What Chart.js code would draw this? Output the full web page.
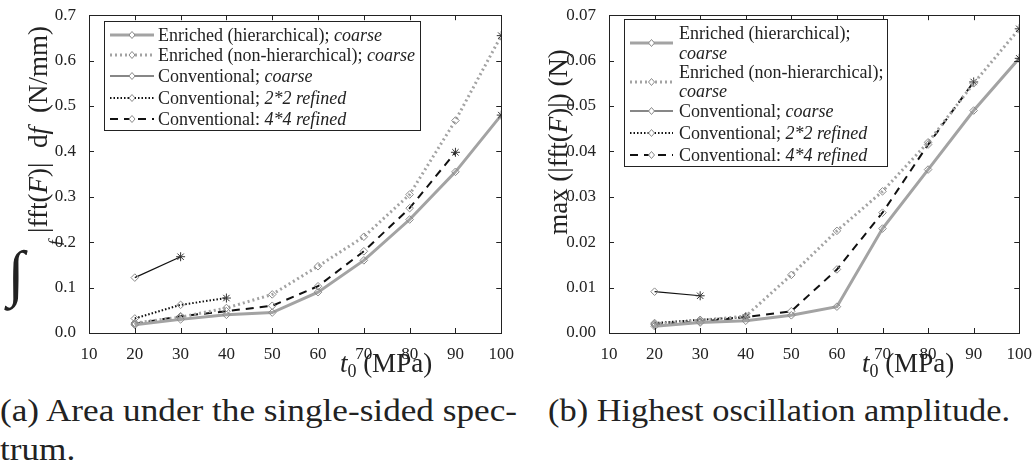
<!DOCTYPE html>
<html lang="en">
<head>
    <meta charset="UTF-8">
    <title>Spectrum comparison</title>
    <style>
        body {
            margin: 0;
            background: #fff;
            width: 1035px;
            height: 469px;
            position: relative;
            overflow: hidden;
            color: #222;
        }

        .panel {
            position: absolute;
            top: 0;
            width: 517px;
            height: 390px;
        }

        .caption {
            position: absolute;
            font-family: 'Liberation Serif';
            font-size: 32px;
            line-height: 39px;
            white-space: nowrap;
            color: #222;
            transform-origin: 0 0;
        }
    </style>
</head>
<body>
    <div class="panel" style="left:0"><canvas id="areaChart"></canvas></div>
    <div class="panel" style="left:518px"><canvas id="peakChart"></canvas></div>

    <div class="caption" id="capA1" style="left:0; top:391px">(a) Area under the single-sided spec-</div>
    <div class="caption" id="capA2" style="left:0; top:430px">trum.</div>
    <div class="caption" id="capB" style="left:548px; top:391px">(b) Highest oscillation amplitude.</div>

    <script src="https://cdn.jsdelivr.net/npm/chart.js"></script>
    <script>
        // load t0 (MPa)
        const loads = [20, 30, 40, 50, 60, 70, 80, 90, 100];

        // (a) integral of |fft(F)| over f, N/mm
        const areaEnrHier    = [0.018, 0.030, 0.040, 0.045, 0.090, 0.160, 0.250, 0.355, 0.480];
        const areaEnrNonHier = [0.022, 0.035, 0.055, 0.085, 0.147, 0.212, 0.305, 0.468, 0.655];
        const areaConvCoarse = [0.122, 0.168];
        const areaConv2x2    = [0.032, 0.062, 0.077];
        const areaConv4x4    = [0.020, 0.037, 0.048, 0.060, 0.103, 0.180, 0.275, 0.398];

        // (b) max |fft(F)|, N
        const peakEnrHier    = [0.0015, 0.0023, 0.0027, 0.0039, 0.0058, 0.0230, 0.0360, 0.0490, 0.0605];
        const peakEnrNonHier = [0.0020, 0.0028, 0.0037, 0.0128, 0.0225, 0.0312, 0.0420, 0.0550, 0.0670];
        const peakConvCoarse = [0.0091, 0.0082];
        const peakConv2x2    = [0.0022, 0.0029, 0.0035];
        const peakConv4x4    = [0.0018, 0.0025, 0.0035, 0.0048, 0.0140, 0.0265, 0.0415, 0.0553];

        const xTicks = [10, 20, 30, 40, 50, 60, 70, 80, 90, 100];
        const areaTicks = [0, 0.1, 0.2, 0.3, 0.4, 0.5, 0.6, 0.7];
        const peakTicks = [0, 0.01, 0.02, 0.03, 0.04, 0.05, 0.06, 0.07];

        const FONT = "'Liberation Serif'";
        const GREY = '#a3a3a3';
        const INK = '#111';

        // stretch the captions to the text block width
        function fitCaption(id, width, refId) {
            const el = document.getElementById(id);
            const base = document.getElementById(refId || id);
            el.style.transform = `scaleX(${width / base.scrollWidth})`;
        }
        fitCaption('capA1', 517);
        fitCaption('capA2', 517, 'capA1');
        fitCaption('capB', 462);

        // each series: solver name, mesh in italics, line style
        const seriesStyles = [
            { name: 'Enriched (hierarchical); ', mesh: 'coarse', color: GREY, width: 3, dash: [] },
            { name: 'Enriched (non-hierarchical); ', mesh: 'coarse', color: GREY, width: 3, dash: [2, 3] },
            { name: 'Conventional; ', mesh: 'coarse', color: INK, width: 1.2, dash: [] },
            { name: 'Conventional; ', mesh: '2*2 refined', color: INK, width: 2, dash: [1.5, 2] },
            { name: 'Conventional: ', mesh: '4*4 refined', color: INK, width: 2, dash: [8, 6] }
        ];

        function makeDatasets(series) {
            return series.map((values, i) => {
                const s = seriesStyles[i];
                const n = values.length;
                return {
                    label: s.name + s.mesh,
                    data: values.map((v, k) => ({ x: loads[k], y: v })),
                    borderColor: s.color,
                    borderWidth: s.width,
                    borderDash: s.dash,
                    tension: 0,
                    fill: false,
                    pointStyle: values.map((_, k) => k === n - 1 ? 'star' : 'rectRot'),
                    pointRadius: values.map((_, k) => k === n - 1 ? 4.5 : 3.8),
                    pointBorderWidth: 1,
                    pointBorderColor: values.map((_, k) => k === n - 1 ? '#333' : '#8a8a8a'),
                    pointBackgroundColor: 'rgba(255,255,255,0)'
                };
            });
        }

        // draw a run of text pieces; a piece may start at a fixed offset (at)
        // and carry its own font and baseline shift
        function drawRich(ctx, pieces, x, y, align) {
            let total = 0;
            pieces.forEach(p => { ctx.font = p.font; total += ctx.measureText(p.t).width; });
            let cx = align === 'center' ? x - total / 2 : x;
            ctx.textBaseline = 'alphabetic';
            ctx.textAlign = 'left';
            pieces.forEach(p => {
                // option proxies may hand back non-numbers for missing keys
                if (typeof p.at === 'number') cx = x + p.at;
                const dy = typeof p.dy === 'number' ? p.dy : 0;
                ctx.font = p.font;
                ctx.fillText(p.t, cx, y + dy);
                cx += ctx.measureText(p.t).width;
            });
        }

        // box frame with inward ticks on all four sides
        const framePlugin = {
            id: 'frame',
            afterDraw(chart, args, opts) {
                const { ctx, chartArea: a, scales } = chart;
                ctx.save();
                ctx.strokeStyle = '#222';
                ctx.lineWidth = 1;
                ctx.setLineDash([]);
                ctx.strokeRect(Math.round(a.left) + 0.5, Math.round(a.top) + 0.5,
                    Math.round(a.right - a.left), Math.round(a.bottom - a.top));
                ctx.beginPath();
                xTicks.forEach(v => {
                    const px = Math.round(scales.x.getPixelForValue(v)) + 0.5;
                    ctx.moveTo(px, a.bottom); ctx.lineTo(px, a.bottom - 5);
                    ctx.moveTo(px, a.top); ctx.lineTo(px, a.top + 5);
                });
                opts.yTicks.forEach(v => {
                    const py = Math.round(scales.y.getPixelForValue(v)) + 0.5;
                    ctx.moveTo(a.left, py); ctx.lineTo(a.left + 5, py);
                    ctx.moveTo(a.right, py); ctx.lineTo(a.right - 5, py);
                });
                ctx.stroke();
                ctx.restore();
            }
        };

        // axis titles with math-style pieces
        const titlePlugin = {
            id: 'axisTitles',
            afterDraw(chart, args, opts) {
                const { ctx } = chart;
                ctx.save();
                ctx.fillStyle = '#222';
                const xPieces = [
                    { t: 't', font: `italic 27px ${FONT}` },
                    { t: '0', font: `18px ${FONT}`, dy: 5 },
                    { t: ' (MPa)', font: `27px ${FONT}` }
                ];
                drawRich(ctx, xPieces, opts.xTitleX, 372, 'center');
                if (opts.integral) {
                    // upright integral sign in front of the rotated label
                    ctx.font = `italic 62px ${FONT}`;
                    ctx.textAlign = 'center';
                    ctx.textBaseline = 'middle';
                    ctx.fillText('\u222B', opts.integral.x, opts.integral.y);
                }
                ctx.translate(opts.yTitleX, opts.yTitleY);
                ctx.rotate(-Math.PI / 2);
                drawRich(ctx, opts.yPieces, 0, 0, opts.yAlign);
                ctx.restore();
            }
        };

        // legend box drawn inside the plot area
        const boxLegendPlugin = {
            id: 'boxLegend',
            afterDraw(chart, args, opts) {
                const { ctx } = chart;
                const b = opts.box;
                ctx.save();
                ctx.fillStyle = '#fff';
                ctx.fillRect(b.x, b.y, b.w, b.h);
                ctx.strokeStyle = '#222';
                ctx.lineWidth = 1;
                ctx.strokeRect(b.x + 0.5, b.y + 0.5, b.w, b.h);
                opts.rows.forEach((row, i) => {
                    const s = seriesStyles[i];
                    ctx.beginPath();
                    ctx.strokeStyle = s.color;
                    ctx.lineWidth = s.width;
                    ctx.setLineDash(s.dash);
                    ctx.moveTo(opts.sampleX0, row.lineY);
                    ctx.lineTo(opts.sampleX1, row.lineY);
                    ctx.stroke();
                    ctx.setLineDash([]);
                    const mx = (opts.sampleX0 + opts.sampleX1) / 2;
                    ctx.beginPath();
                    ctx.strokeStyle = '#8a8a8a';
                    ctx.lineWidth = 1;
                    ctx.moveTo(mx, row.lineY - 3.5); ctx.lineTo(mx + 3, row.lineY);
                    ctx.lineTo(mx, row.lineY + 3.5); ctx.lineTo(mx - 3, row.lineY);
                    ctx.closePath();
                    ctx.fillStyle = '#fff';
                    ctx.fill();
                    ctx.stroke();
                    ctx.fillStyle = '#222';
                    const regular = `18px ${FONT}`;
                    const italic = `italic 18px ${FONT}`;
                    if (row.wrap) {
                        drawRich(ctx, [{ t: s.name.trim(), font: regular }], opts.textX, row.textY[0], 'left');
                        drawRich(ctx, [{ t: s.mesh, font: italic }], opts.textX, row.textY[1], 'left');
                    } else {
                        drawRich(ctx, [{ t: s.name, font: regular }, { t: s.mesh, font: italic }],
                            opts.textX, row.textY[0], 'left');
                    }
                });
                ctx.restore();
            }
        };

        function buildChart(id, series, yTicks, decimals, layout, extra) {
            return new Chart(document.getElementById(id), {
                type: 'line',
                data: { datasets: makeDatasets(series) },
                plugins: [framePlugin, titlePlugin, boxLegendPlugin],
                options: {
                    responsive: true,
                    maintainAspectRatio: false,
                    animation: false,
                    layout: { autoPadding: false, padding: { top: 7, right: layout.right, left: 0, bottom: 0 } },
                    scales: {
                        x: {
                            type: 'linear',
                            min: 10,
                            max: 100,
                            afterBuildTicks: s => { s.ticks = xTicks.map(v => ({ value: v })); },
                            afterFit: s => { s.height = 57; },
                            grid: { display: false },
                            border: { display: false },
                            ticks: { color: '#222', padding: 3, maxRotation: 0, font: { family: FONT, size: 17 } }
                        },
                        y: {
                            min: 0,
                            max: yTicks[yTicks.length - 1],
                            afterBuildTicks: s => { s.ticks = yTicks.map(v => ({ value: v })); },
                            afterFit: s => { s.width = layout.left; },
                            grid: { display: false },
                            border: { display: false },
                            ticks: {
                                color: '#222',
                                padding: 5,
                                font: { family: FONT, size: 17 },
                                callback: v => v.toFixed(decimals)
                            }
                        }
                    },
                    plugins: {
                        legend: { display: false },
                        tooltip: { enabled: false },
                        frame: { yTicks: yTicks },
                        axisTitles: extra.titles,
                        boxLegend: extra.legend
                    }
                }
            });
        }

        buildChart('areaChart',
            [areaEnrHier, areaEnrNonHier, areaConvCoarse, areaConv2x2, areaConv4x4],
            areaTicks, 1, { left: 89, right: 15 },
            {
                titles: {
                    xTitleX: 386,
                    integral: { x: 16, y: 278 },
                    yTitleX: 47,
                    yTitleY: 245,
                    yAlign: 'left',
                    yPieces: [
                        { t: 'f', font: `italic 17px ${FONT}`, dy: 13, at: 0 },
                        { t: '|fft(', font: `27px ${FONT}`, at: 12 },
                        { t: 'F', font: `italic 27px ${FONT}` },
                        { t: ')|', font: `27px ${FONT}` },
                        { t: 'd', font: `27px ${FONT}`, at: 97 },
                        { t: 'f', font: `italic 27px ${FONT}` },
                        { t: '(N/mm)', font: `27px ${FONT}`, at: 132 }
                    ]
                },
                legend: {
                    box: { x: 104, y: 21, w: 316, h: 109 },
                    sampleX0: 110, sampleX1: 154, textX: 158,
                    rows: [
                        { lineY: 35, textY: [41] },
                        { lineY: 55, textY: [61] },
                        { lineY: 76, textY: [82] },
                        { lineY: 98, textY: [104] },
                        { lineY: 119, textY: [125] }
                    ]
                }
            });

        buildChart('peakChart',
            [peakEnrHier, peakEnrNonHier, peakConvCoarse, peakConv2x2, peakConv4x4],
            peakTicks, 2, { left: 91, right: 12 },
            {
                titles: {
                    xTitleX: 390,
                    yTitleX: 49,
                    yTitleY: 142,
                    yAlign: 'center',
                    yPieces: [
                        { t: 'max (|fft(', font: `27px ${FONT}` },
                        { t: 'F', font: `italic 27px ${FONT}` },
                        { t: ')|) (N)', font: `27px ${FONT}` }
                    ]
                },
                legend: {
                    box: { x: 106, y: 19, w: 263, h: 147 },
                    sampleX0: 112, sampleX1: 155, textX: 161,
                    rows: [
                        { lineY: 43, wrap: true, textY: [39, 59] },
                        { lineY: 82, wrap: true, textY: [78, 97] },
                        { lineY: 111, textY: [117] },
                        { lineY: 133, textY: [139] },
                        { lineY: 155, textY: [161] }
                    ]
                }
            });
    </script>
</body>
</html>
